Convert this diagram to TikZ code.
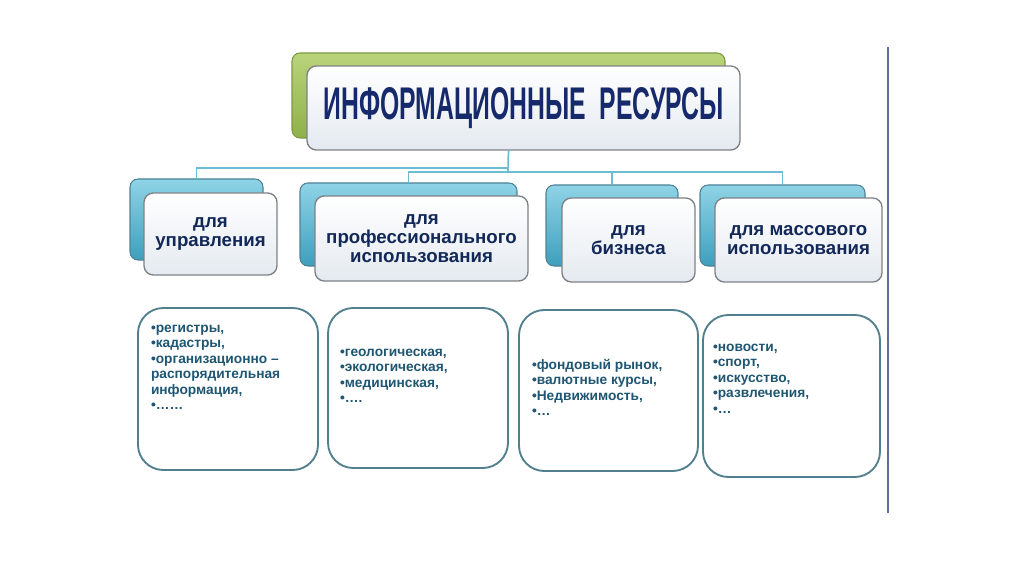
\documentclass[tikz,border=0pt]{standalone}
\usepackage{fontspec}
\setmainfont{Liberation Sans}
\usepackage{graphicx}
\definecolor{titlec}{HTML}{16296A}
\definecolor{lvltwo}{HTML}{122858}
\definecolor{lvlthree}{HTML}{1F5672}
\definecolor{greentop}{HTML}{B9D47A}
\definecolor{greenbot}{HTML}{8FB04A}
\definecolor{greenedge}{HTML}{7C9A45}
\definecolor{bluetop}{HTML}{8FD3E6}
\definecolor{bluebot}{HTML}{3E9FBC}
\definecolor{blueedge}{HTML}{4C8397}
\definecolor{frontbot}{HTML}{E4EAF0}
\definecolor{frontedge}{HTML}{7E8286}
\definecolor{conncol}{HTML}{6CBCD4}
\definecolor{listedge}{HTML}{517F8E}
\definecolor{sidebar}{HTML}{5C6F98}
\begin{document}
\begin{tikzpicture}[x=0.75pt,y=-0.75pt,
  sz/.style 2 args={minimum width=#1*0.75pt, minimum height=#2*0.75pt},
  base/.style={outer sep=0pt, inner sep=0pt},
  greenback/.style={base, draw=greenedge, line width=0.8pt, rounded corners=6pt,
     top color=greentop, bottom color=greenbot},
  blueback/.style={base, draw=blueedge, line width=0.8pt, rounded corners=6pt,
     top color=bluetop, bottom color=bluebot},
  frontbox/.style={base, draw=frontedge, line width=1pt, rounded corners=7pt,
     top color=white, bottom color=frontbot, align=center},
  lvltext/.style={text=lvltwo, font=\bfseries\fontsize{14}{14.2}\selectfont},
  listbox/.style={base, draw=listedge, line width=1.4pt, rounded corners=19pt, fill=white},
  listtext/.style={base, anchor=north west, align=left, text=lvlthree,
     font=\bfseries\fontsize{10.3}{11.6}\selectfont},
  conn/.style={draw=conncol, line width=1.3pt}
]
\useasboundingbox (0,0) rectangle (1024,574);

% side bar
\draw[draw=sidebar, line width=2.2pt] (888,47) -- (888,513);

% top
\node[greenback, sz={433}{85}] (topback) at (508.5,95.5) {};
\node[frontbox, sz={433}{84}] (topfront) at (523.5,108)
  {\textcolor{titlec}{\resizebox{300pt}{24pt}{\bfseries ИНФОРМАЦИОННЫЕ\ \ РЕСУРСЫ}}};

% level 2 back boxes
\node[blueback, sz={133}{81}] (b1back) at (196.5,219.5) {};
\node[blueback, sz={217}{83}] (b2back) at (408.5,224.5) {};
\node[blueback, sz={132}{81}] (b3back) at (612,225.5) {};
\node[blueback, sz={165}{81}] (b4back) at (782.5,225.5) {};

% connectors
\coordinate (j1) at (508,168);
\coordinate (j2) at (508,172);
\draw[conn] (topback.center |- topfront.south) -- (j2);
\draw[conn] (j1) -| (b1back.north);
\draw[conn] (j2) -| (b2back.north);
\draw[conn] (j2) -| (b3back.north);
\draw[conn] (j2) -| (b4back.north);

% level 2 front boxes
\node[frontbox, lvltext, sz={133}{82}] (b1) at (210.5,234) {для\\управления};
\node[frontbox, lvltext, sz={213}{85}] (b2) at (421.5,238.5) {для\\профессионального\\использования};
\node[frontbox, lvltext, sz={133}{84}] (b3) at (628.5,240) {для\\бизнеса};
\node[frontbox, lvltext, sz={167}{84}] (b4) at (798.5,240) {для массового\\использования};

% level 3 boxes
\node[listbox, sz={180}{162}] (la) at (228,389) {};
\node[listbox, sz={180}{160}] (lb) at (418,388) {};
\node[listbox, sz={179}{161}] (lc) at (608.5,390.5) {};
\node[listbox, sz={177}{162}] (ld) at (791.5,396) {};

\node[listtext] (ta) at (151,325) {•регистры,\\•кадастры,\\•организационно –\\распорядительная\\информация,\\•……};
\node[listtext] (tb) at (340,349) {•геологическая,\\•экологическая,\\•медицинская,\\•….};
\node[listtext] (tc) at (532,359) {•фондовый рынок,\\•валютные курсы,\\•Недвижимость,\\•…};
\node[listtext] (td) at (713,344) {•новости,\\•спорт,\\•искусство,\\•развлечения,\\•…};
\end{tikzpicture}
\end{document}
